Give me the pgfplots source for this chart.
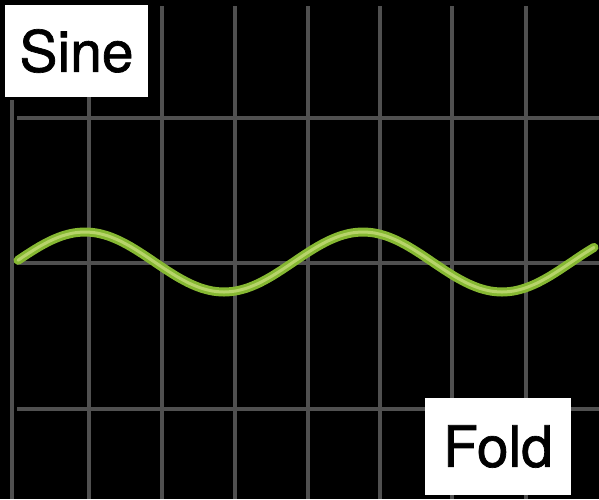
\documentclass[border=0pt]{standalone}
\usepackage{fontspec}
\setmainfont{TeX Gyre Heros}
\newfontfamily\labelfont[FakeBold=1.2]{TeX Gyre Heros}
\usepackage{pgfplots}
\pgfplotsset{compat=1.18}
\definecolor{gridgray}{HTML}{505050}
\definecolor{waveouter}{HTML}{86B832}
\definecolor{waveinner}{HTML}{C4DC78}
\begin{document}
\begin{tikzpicture}
\begin{axis}[
  scale only axis,
  width=599pt, height=499pt,
  xmin=0, xmax=599, ymin=0, ymax=499,
  y dir=reverse,
  axis lines=none,
  ticks=none,
  axis background/.style={fill=black},
  unbounded coords=jump,
  clip=true,
]
% grid lines
\addplot[gridgray, line width=4.5pt] coordinates {
  (12,100) (12,499) (nan,nan)
  (89,6) (89,499) (nan,nan)
  (162,6) (162,499) (nan,nan)
  (235,6) (235,499) (nan,nan)
  (308,6) (308,499) (nan,nan)
  (380,6) (380,499) (nan,nan)
  (452,6) (452,499) (nan,nan)
  (526,6) (526,499) (nan,nan)
  (17,118) (599,118) (nan,nan)
  (17,263) (599,263) (nan,nan)
  (17,409) (599,409)
};
% sine wave
\pgfplotstableread{
x y
18 260.3
27.08 254.24
38.67 247
50.25 240.79
61.83 236.02
73.42 233.02
85.0 232
96.58 233.02
108.17 236.02
119.75 240.79
131.33 247
142.92 254.24
154.5 262
166.08 269.76
177.67 277
189.25 283.21
200.83 287.98
212.42 290.98
224.0 292
235.58 290.98
247.17 287.98
258.75 283.21
270.33 277
281.92 269.76
293.5 262
305.08 254.24
316.67 247
328.25 240.79
339.83 236.02
351.42 233.02
363.0 232
374.58 233.02
386.17 236.02
397.75 240.79
409.33 247
420.92 254.24
432.5 262
444.08 269.76
455.67 277
467.25 283.21
478.83 287.98
490.42 290.98
502.0 292
513.58 290.98
525.17 287.98
536.75 283.21
548.33 277
559.92 269.76
571.5 262
583.08 254.24
594.0 247.4
}\wave
\addplot[waveouter, line width=9pt, smooth, line cap=round] table[x=x,y=y] {\wave};
\addplot[waveinner, line width=3pt, smooth, line cap=round, opacity=0.8] table[x=x,y=y] {\wave};
% labels
\node[fill=white, text=black, inner sep=0pt, minimum width=143pt, minimum height=92pt,
      font=\labelfont\fontsize{57}{60}\selectfont] at (axis cs:76.5,51) {Sine};
\node[fill=white, text=black, inner sep=0pt, minimum width=146pt, minimum height=97pt,
      font=\labelfont\fontsize{57}{60}\selectfont] at (axis cs:498,446.5) {Fold};
\end{axis}
\end{tikzpicture}
\end{document}
